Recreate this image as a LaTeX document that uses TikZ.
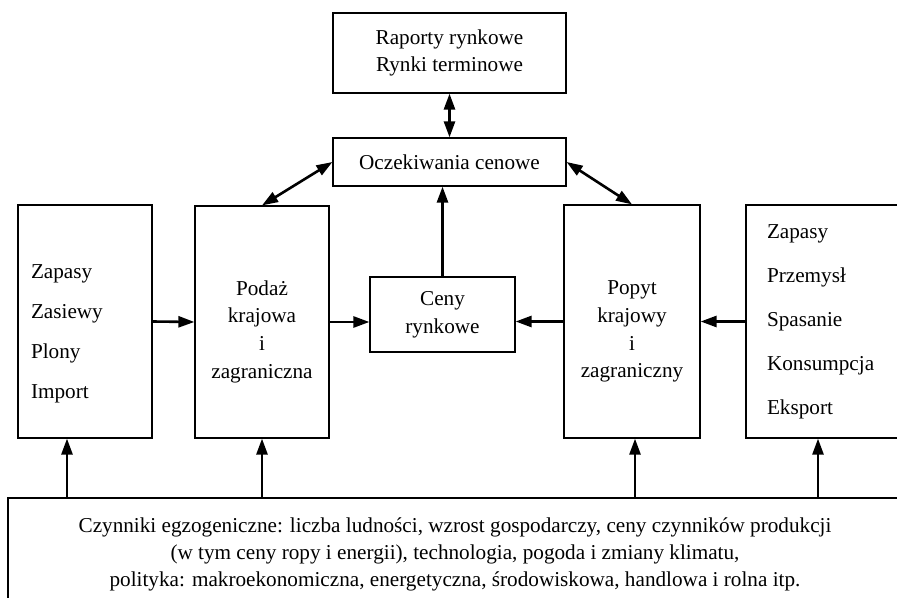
\documentclass[tikz,border=0pt]{standalone}
\usepackage{fontspec}
\setmainfont{Liberation Serif}
\usetikzlibrary{arrows.meta}
% extra room above the first line of a box
\newcommand{\tgap}[1]{\rule{0pt}{#1}}
\begin{document}
\begin{tikzpicture}[x=0.5pt,y=-0.5pt,
		box/.style={draw, line width=0.6pt, align=center, inner sep=0pt, font=\fontsize{10.6}{13.8}\selectfont},
		arr/.style={line width=1.3pt, -{Triangle[length=8pt,width=5.5pt]}},
		darr/.style={line width=1.3pt, {Triangle[length=8pt,width=5.5pt]}-{Triangle[length=8pt,width=5.5pt]}}]
	\clip (0,0) rectangle (897,598);

	\node [box, minimum width=116.5pt, minimum height=40pt] (rap) at (449.5,53) {Raporty rynkowe\\Rynki terminowe};
	\node [box, minimum width=116.5pt, minimum height=24pt] (ocz) at (449.5,162) {Oczekiwania cenowe};
	\node [box, align=left, text width=54pt, inner xsep=6.5pt, minimum height=116.5pt, font=\fontsize{10.6}{20}\selectfont] (zap) at (85,321.5) {\tgap{19pt}Zapasy\\Zasiewy\\Plony\\Import};
	\node [box, minimum width=67pt, minimum height=116pt] (podaz) at (262,322) {\tgap{17pt}Podaż\\krajowa\\i\\zagraniczna};
	\node [box, minimum width=72.5pt, minimum height=37.5pt] (ceny) at (442.5,314.5) {Ceny\\rynkowe};
	\node [box, minimum width=68pt, minimum height=116.5pt] (popyt) at (632,321.5) {\tgap{17pt}Popyt\\krajowy\\i\\zagraniczny};
	\node [box, align=left, text width=61pt, inner xsep=10.5pt, minimum height=116.5pt, font=\fontsize{10.6}{22}\selectfont] (rozd) at (828,321.5) {Zapasy\\Przemysł\\Spasanie\\Konsumpcja\\Eksport};
	\node [box, minimum width=447pt, minimum height=56pt, font=\fontsize{10.6}{13.5}\selectfont] (czyn) at (455,554) {Czynniki egzogeniczne: liczba ludności, wzrost gospodarczy, ceny czynników produkcji\\(w tym ceny ropy i energii), technologia, pogoda i zmiany klimatu,\\polityka: makroekonomiczna, energetyczna, środowiskowa, handlowa i rolna itp.};

	\draw [darr] (rap.south) -- (ocz.north);
	\draw [darr] (podaz.north) -- (ocz.west);
	\draw [darr] (ocz.east) -- (popyt.north);
	\draw [arr] (ceny.north) -- (ceny.north |- ocz.south);
	\draw [arr] (zap.east) -- (podaz.west);
	\draw [arr] (podaz.east) -- (podaz.east -| ceny.west);
	\draw [arr] (popyt.west) -- (popyt.west -| ceny.east);
	\draw [arr] (rozd.west) -- (popyt.east);
	\foreach \n/\x in {zap/67, podaz/262, popyt/635, rozd/818} {
		\draw [arr] (czyn.north -| \x,0) -- (\n.south -| \x,0);
	}
\end{tikzpicture}
\end{document}
